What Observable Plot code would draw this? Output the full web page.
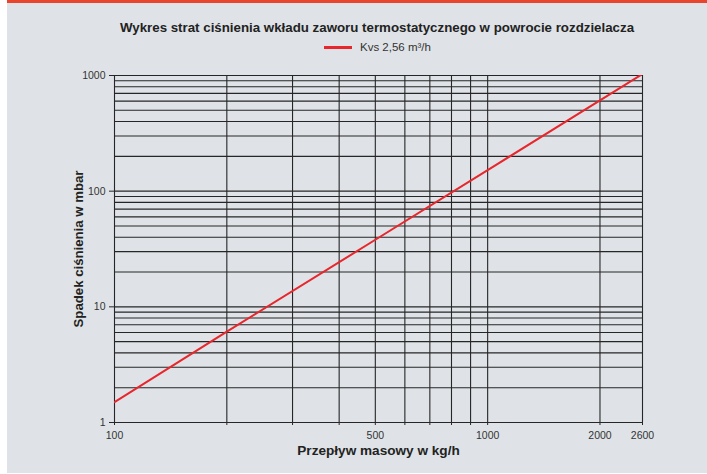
<!DOCTYPE html>
<html>
<head>
<meta charset="utf-8">
<script src="https://cdn.jsdelivr.net/npm/d3@7"></script>
<script src="https://cdn.jsdelivr.net/npm/@observablehq/plot@0.6"></script>
<style>
  html, body { margin: 0; padding: 0; background: #ffffff; }
  #wrap { position: relative; width: 707px; height: 474px; overflow: hidden; font-family: "Liberation Sans", Arial, sans-serif; }
  #bg { position: absolute; left: 7px; top: 0; width: 700px; height: 473px; background: #dfe3e7; }
  #bar { position: absolute; left: 7px; top: 0; width: 700px; height: 3px; background: #e8452c; }
  #chart { position: absolute; left: 0; top: 0; }
  #title { position: absolute; left: 0; width: 754px; top: 20px; text-align: center; font-weight: bold; font-size: 13.3px; color: #222; }
  #legend { position: absolute; left: 324px; top: 41px; font-size: 11.5px; color: #333; display: flex; align-items: center; }
  #legend .sw { width: 28px; height: 3px; background: #e8262b; margin-right: 8px; }
</style>
</head>
<body>
<div id="wrap">
  <div id="bg"></div>
  <div id="bar"></div>
  <div id="chart"></div>
  <div id="title">Wykres strat ciśnienia wkładu zaworu termostatycznego w powrocie rozdzielacza</div>
  <div id="legend"><span class="sw"></span><span>Kvs 2,56 m³/h</span></div>
</div>
<script>
// Data
const flow = [100, 200, 500, 1000, 2000, 2600];       // kg/h
const pressure = [1.5, 6.1, 38, 152, 610, 1030];      // mbar
const seriesName = "Kvs 2,56 m³/h";

const xGrid = [100, 200, 300, 400, 500, 600, 700, 800, 900, 1000, 2000, 2600];
const xLabels = [100, 500, 1000, 2000, 2600];
const yGrid = [1,2,3,4,5,6,7,8,9,10,20,30,40,50,60,70,80,90,100,200,300,400,500,600,700,800,900,1000];
const yLabels = [1, 10, 100, 1000];

const data = flow.map((f, i) => ({flow: f, pressure: pressure[i], series: seriesName}));

const chart = Plot.plot({
  width: 707,
  height: 474,
  marginLeft: 114,
  marginRight: 65,
  marginTop: 75,
  marginBottom: 52,
  style: {background: "transparent", fontFamily: "Liberation Sans, Arial, sans-serif", fontSize: "10px", color: "#333"},
  x: {type: "log", domain: [100, 2600]},
  y: {type: "log", domain: [1, 1000]},
  marks: [
    Plot.ruleX(xGrid, {stroke: "#262626", strokeWidth: 1.1, strokeOpacity: 1}),
    Plot.ruleY(yGrid, {stroke: "#262626", strokeWidth: 1.1, strokeOpacity: 1}),
    Plot.axisX({ticks: xGrid, tickSize: 3, tickFormat: null, text: null, label: null, stroke: "#262626", strokeOpacity: 1}),
    Plot.axisX({ticks: xLabels, tickSize: 0, tickPadding: 9, tickFormat: d => String(d), label: null, fill: "#333", fontSize: 10.5}),
    Plot.axisY({ticks: yLabels, tickSize: 5, tickPadding: 4, tickFormat: d => String(d), label: null, stroke: "#262626", strokeOpacity: 1, fill: "#333", fontSize: 10.5}),
    Plot.frame({stroke: "#262626"}),
    Plot.line(data, {x: "flow", y: "pressure", stroke: "#e8262b", strokeWidth: 2, clip: true}),
    Plot.text(["Przepływ masowy w kg/h"], {frameAnchor: "bottom", dy: 32, fontWeight: "bold", fontSize: 13.6, fill: "#222"}),
    Plot.text(["Spadek ciśnienia w mbar"], {frameAnchor: "left", textAnchor: "middle", dx: -36, rotate: -90, fontWeight: "bold", fontSize: 13.2, fill: "#222"})
  ]
});
document.getElementById("chart").appendChild(chart);
</script>
</body>
</html>
